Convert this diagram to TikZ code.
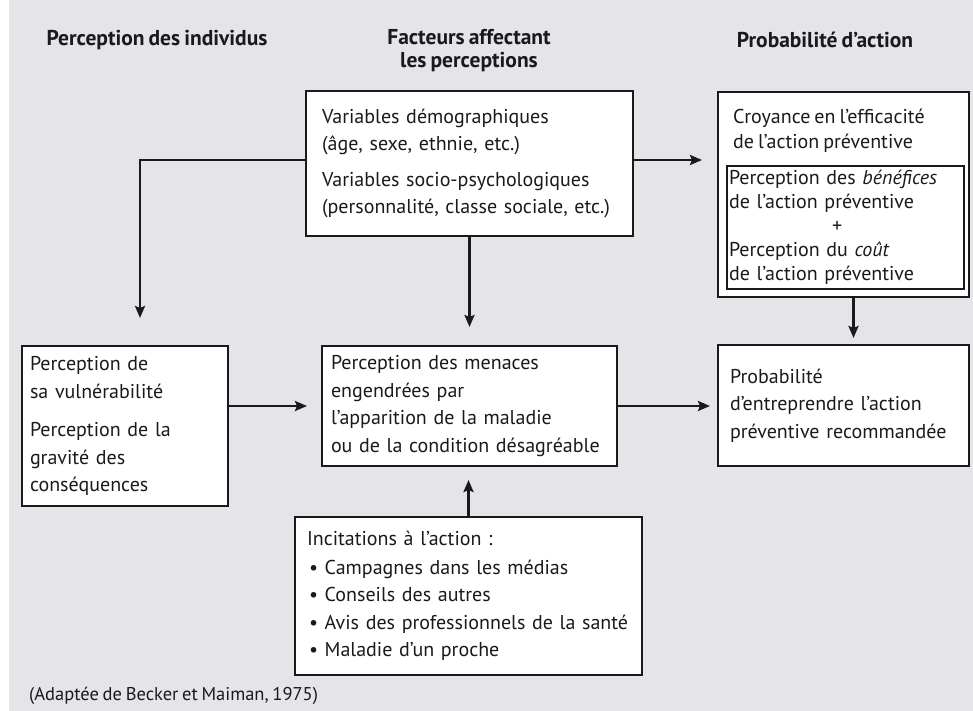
\documentclass[tikz,border=0pt]{standalone}
\usepackage{fontspec}
\setmainfont{PT Sans}[WordSpace=0.75]
\usetikzlibrary{arrows.meta}
\definecolor{bg}{HTML}{E5E5E9}
\definecolor{ink}{HTML}{1A1A1A}
\begin{document}
\begin{tikzpicture}[x=1pt,y=-1pt,
  box/.style={draw=ink, line width=1.6pt, fill=white, inner sep=0pt, outer sep=0pt, align=left, text=ink, font=\fontsize{20}{27.5}\selectfont},
  head/.style={text=ink, align=center, font=\fontsize{21.5}{23}\selectfont\bfseries},
  plain/.style={text=ink, align=left, inner sep=0pt, font=\fontsize{20}{25}\selectfont},
  arr/.style={line width=2.8pt, draw=ink, -{Stealth[length=12pt,width=10pt,inset=2pt]}}]
\useasboundingbox (0,0) rectangle (973,711);
\fill[white] (0,0) rectangle (973,711);
\fill[bg] (9,0) rectangle (973,711);

% headers
\node[head] (h1) at (157,40) {Perception des individus};
\node[head] (h2) at (469,51) {Facteurs affectant\\les perceptions};
\node[head] (h3) at (825,40) {Probabilité d’action};

% boxes
\node[box, minimum width=327, minimum height=145, text width=295] (top) at (469.5,163.5)
  {Variables démographiques\\(âge, sexe, ethnie, etc.)\\[8pt]Variables socio-psychologiques\\(personnalité, classe sociale, etc.)};
\node[box, minimum width=206, minimum height=160, text width=190] (left) at (125,426)
  {Perception de\\sa vulnérabilité\\[11pt]Perception de la\\gravité des\\conséquences};
\node[box, minimum width=295, minimum height=120, text width=277] (mid) at (469.5,406)
  {Perception des menaces\\engendrées par\\l’apparition de la maladie\\ou de la condition désagréable};
\node[box, minimum width=347, minimum height=158, text width=323] (bot) at (468.5,596)
  {Incitations à l’action :\\[1pt]
   \hspace*{2pt}• Campagnes dans les médias\\
   \hspace*{2pt}• Conseils des autres\\
   \hspace*{2pt}• Avis des professionnels de la santé\\
   \hspace*{2pt}• Maladie d’un proche};
\node[box, minimum width=251, minimum height=205] (rtop) at (843.5,194.5) {};
\node[plain, anchor=west] (cro) at (733,131)
  {Croyance en l’efficacité\\de l’action préventive};
\node[box, line width=1.3pt, minimum width=237, minimum height=123, text width=233,
  font=\fontsize{20}{24}\selectfont] (inner) at (845.5,227.5)
  {Perception des \textit{bénéfices}\\de l’action préventive\\\hspace*{103pt}+\\Perception du \textit{coût}\\de l’action préventive};
\node[box, minimum width=251, minimum height=121, text width=227] (rbot) at (843.5,405.5)
  {Probabilité\\d’entreprendre l’action\\préventive recommandée\\[8pt]};

% caption
\node[text=ink, anchor=west, inner sep=0pt, font=\fontsize{18.5}{22}\selectfont] (cap) at (29,696)
  {(Adaptée de Becker et Maiman, 1975)};

% connectors
\coordinate (tW) at ([yshift=3.5pt]top.west);
\coordinate (tE) at ([yshift=3.5pt]top.east);
\draw[arr, shorten >=28pt] (tW) -| ([xshift=15pt]left.north);
\draw[arr, shorten >=19pt] (top.south) -- (mid.north);
\draw[arr, shorten >=14pt] (bot.north) -- (bot.north |- mid.south);
\draw[arr, shorten >=15pt] (left.east |- mid.west) -- (mid.west);
\draw[arr, shorten >=8pt] (mid.east) -- (mid.east -| rbot.west);
\draw[arr, shorten >=16pt] (tE) -- (tE -| rtop.west);
\draw[arr, shorten >=7pt] ([xshift=10pt]rtop.south) -- ([xshift=10pt]rbot.north);
\end{tikzpicture}
\end{document}
